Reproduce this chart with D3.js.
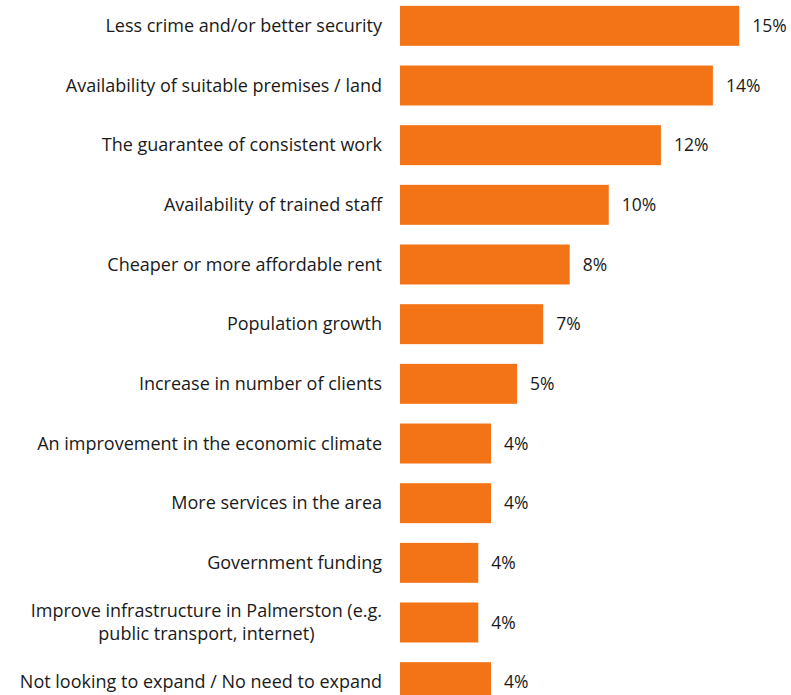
<!DOCTYPE html>
<html>
<head>
<meta charset="utf-8">
<script src="https://cdn.jsdelivr.net/npm/d3@7"></script>
<style>
  html, body { margin: 0; padding: 0; background: #ffffff; }
  svg { display: block; }
  text { font-family: "Open Sans", "Noto Sans", sans-serif; fill: #1a1a1a; }
</style>
</head>
<body>
<svg id="chart" width="791" height="695"></svg>
<script>
// Reasons that would encourage expansion (share of respondents)
const categories = [
  "Less crime and/or better security",
  "Availability of suitable premises / land",
  "The guarantee of consistent work",
  "Availability of trained staff",
  "Cheaper or more affordable rent",
  "Population growth",
  "Increase in number of clients",
  "An improvement in the economic climate",
  "More services in the area",
  "Government funding",
  "Improve infrastructure in Palmerston (e.g.\npublic transport, internet)",
  "Not looking to expand / No need to expand"
];
const values = [0.1547, 0.1427, 0.1190, 0.0952, 0.0774, 0.0653, 0.0534, 0.0415, 0.0415, 0.0357, 0.0357, 0.0415];
const xDomain = [0, 0.18];

const data = categories.map((c, i) => ({ category: c, value: values[i] }));

const svg = d3.select("#chart");
const left = 400;

const x = d3.scaleLinear().domain(xDomain).range([left, left + 394.7]);
const y = d3.scaleBand()
  .domain(categories)
  .range([-4, 712])
  .paddingInner(0.33)
  .paddingOuter(0.165);

const fmt = d3.format(".0%");

// bars
svg.append("g")
  .selectAll("rect")
  .data(data)
  .join("rect")
  .attr("x", x(0))
  .attr("y", d => y(d.category))
  .attr("width", d => x(d.value) - x(0))
  .attr("height", y.bandwidth())
  .attr("fill", "#F37417");

// value labels
svg.append("g")
  .selectAll("text")
  .data(data)
  .join("text")
  .attr("x", d => x(d.value) + 13)
  .attr("y", d => y(d.category) + y.bandwidth() / 2)
  .attr("dy", "0.35em")
  .attr("font-size", 17.5)
  .text(d => fmt(d.value));

// category axis with wrapped labels, multi-line labels centred in their block
const fs = 18;
const axis = d3.axisLeft(y).tickSize(0).tickPadding(0);
const gAxis = svg.append("g")
  .attr("transform", `translate(${left - 18},0)`)
  .call(axis);
gAxis.select(".domain").remove();
gAxis.selectAll(".tick text")
  .attr("font-size", fs)
  .attr("fill", "#1a1a1a")
  .each(function (d) {
    const lines = d.split("\n");
    const t = d3.select(this).text(null).attr("dy", null);
    const lh = 23;
    const start = -(lines.length - 1) * lh / 2;
    lines.forEach((ln, i) => {
      t.append("tspan")
        .attr("x", 0)
        .attr("dy", i === 0 ? (start / fs + 0.35) + "em" : lh + "px")
        .text(ln);
    });
    if (lines.length > 1) {
      const w = this.getBBox().width;
      t.attr("text-anchor", "middle");
      t.selectAll("tspan").attr("x", -w / 2);
    }
  });
</script>
</body>
</html>
